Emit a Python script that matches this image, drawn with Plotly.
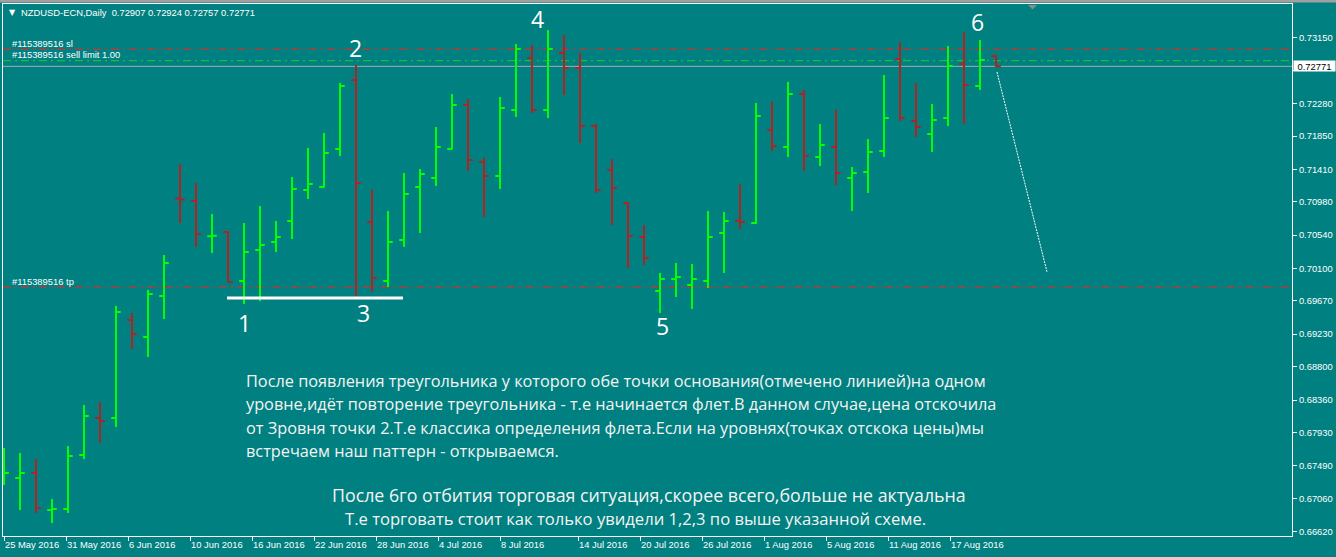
import plotly.graph_objects as go

# ---------------- data ----------------
dates = [
    "2016-05-25", "2016-05-26", "2016-05-27", "2016-05-30", "2016-05-31",
    "2016-06-01", "2016-06-02", "2016-06-03", "2016-06-06", "2016-06-07",
    "2016-06-08", "2016-06-09", "2016-06-10", "2016-06-13", "2016-06-14",
    "2016-06-15", "2016-06-16", "2016-06-17", "2016-06-20", "2016-06-21",
    "2016-06-22", "2016-06-23", "2016-06-24", "2016-06-27", "2016-06-28",
    "2016-06-29", "2016-06-30", "2016-07-01", "2016-07-04", "2016-07-05",
    "2016-07-06", "2016-07-07", "2016-07-08", "2016-07-11", "2016-07-12",
    "2016-07-13", "2016-07-14", "2016-07-15", "2016-07-18", "2016-07-19",
    "2016-07-20", "2016-07-21", "2016-07-22", "2016-07-25", "2016-07-26",
    "2016-07-27", "2016-07-28", "2016-07-29", "2016-08-01", "2016-08-02",
    "2016-08-03", "2016-08-04", "2016-08-05", "2016-08-08", "2016-08-09",
    "2016-08-10", "2016-08-11", "2016-08-12", "2016-08-15", "2016-08-16",
    "2016-08-17", "2016-08-18", "2016-08-19",
]

opens = [0.67329, 0.67329, 0.67395, 0.66906, 0.66919, 0.67633, 0.68122, 0.68122, 0.69418, 0.69193,
         0.69735, 0.71025, 0.70991, 0.70525, 0.70581, 0.69933, 0.70343, 0.70449, 0.70727, 0.71136,
         0.71176, 0.71679, 0.72591, 0.70713, 0.69933, 0.70475, 0.71176, 0.71295, 0.71679, 0.72260,
         0.71507, 0.71322, 0.72194, 0.72882, 0.72194, 0.72948, 0.72749, 0.71983, 0.71401, 0.70965,
         0.70515, 0.69801, 0.69960, 0.69880, 0.69933, 0.70568, 0.70730, 0.70700, 0.71930, 0.71705,
         0.72406, 0.71573, 0.71705, 0.71295, 0.71374, 0.71652, 0.72868, 0.72049, 0.71877, 0.72088,
         0.72802, 0.72511, 0.72907]

highs = [0.67725, 0.67659, 0.67580, 0.67051, 0.67752, 0.68294, 0.68334, 0.69603, 0.69510, 0.69814,
         0.70277, 0.71480, 0.71229, 0.70819, 0.70590, 0.70700, 0.70925, 0.70727, 0.71308, 0.71692,
         0.71890, 0.72551, 0.72789, 0.71136, 0.70859, 0.71361, 0.71414, 0.71969, 0.72406, 0.72340,
         0.71560, 0.72366, 0.73067, 0.73054, 0.73252, 0.73186, 0.72948, 0.72009, 0.71546, 0.70978,
         0.70674, 0.70039, 0.70171, 0.70158, 0.70859, 0.70846, 0.71216, 0.72287, 0.72300, 0.72564,
         0.72459, 0.72009, 0.72194, 0.71441, 0.71811, 0.72657, 0.73093, 0.72551, 0.72273, 0.73040,
         0.73225, 0.73120, 0.72924]

lows = [0.67236, 0.66906, 0.66866, 0.66734, 0.66866, 0.67580, 0.67791, 0.68003, 0.69034, 0.68929,
        0.69431, 0.70700, 0.70383, 0.70304, 0.69920, 0.69629, 0.69669, 0.70317, 0.70489, 0.71017,
        0.71170, 0.71586, 0.69722, 0.69788, 0.69854, 0.70383, 0.70568, 0.71189, 0.71675, 0.71388,
        0.70779, 0.71150, 0.72102, 0.72154, 0.72088, 0.72392, 0.71758, 0.71097, 0.70674, 0.70105,
        0.70145, 0.69510, 0.69722, 0.69563, 0.69841, 0.70039, 0.70621, 0.70687, 0.71652, 0.71573,
        0.71388, 0.71454, 0.71203, 0.70859, 0.71097, 0.71573, 0.72049, 0.71837, 0.71639, 0.71983,
        0.72009, 0.72459, 0.72757]

closes = [0.67395, 0.67395, 0.66932, 0.66919, 0.67620, 0.68148, 0.68082, 0.69524, 0.69233, 0.69762,
          0.70171, 0.71012, 0.70555, 0.70530, 0.69920, 0.70317, 0.70409, 0.70515, 0.71150, 0.71216,
          0.71626, 0.72511, 0.71229, 0.69973, 0.70449, 0.71084, 0.71348, 0.71705, 0.72260, 0.71533,
          0.71322, 0.72221, 0.73001, 0.72194, 0.73001, 0.72749, 0.71983, 0.71136, 0.71163, 0.70528,
          0.70237, 0.69960, 0.69986, 0.69960, 0.70515, 0.70727, 0.70713, 0.72115, 0.71718, 0.72406,
          0.71586, 0.71731, 0.71361, 0.71361, 0.71639, 0.72088, 0.72088, 0.71969, 0.72062, 0.72776,
          0.72525, 0.72855, 0.72771]

x_tick_labels = ["25 May 2016", "31 May 2016", "6 Jun 2016", "10 Jun 2016", "16 Jun 2016",
                 "22 Jun 2016", "28 Jun 2016", "4 Jul 2016", "8 Jul 2016", "14 Jul 2016",
                 "20 Jul 2016", "26 Jul 2016", "1 Aug 2016", "5 Aug 2016", "11 Aug 2016",
                 "17 Aug 2016"]
x_tick_pos = [0, 3.875, 7.75, 11.625, 15.5, 19.375, 23.25, 27.125, 31, 35.875,
              39.75, 43.625, 47.5, 51.375, 55.25, 59.125]

y_tick_vals = [0.73150, 0.72720, 0.72280, 0.71850, 0.71410, 0.70980, 0.70540, 0.70100,
               0.69670, 0.69230, 0.68800, 0.68360, 0.67930, 0.67490, 0.67060, 0.66620]
# the 0.72720 label sits under the current-price box, so it is not shown
y_tick_text = ["" if abs(v - 0.72720) < 1e-9 else f"{v:.5f}" for v in y_tick_vals]

sl_level = 0.72997
sell_limit_level = 0.72846
tp_level = 0.69854
last_price = 0.72771
header_text = "NZDUSD-ECN,Daily  0.72907 0.72924 0.72757 0.72771"

# base line of the pattern (points 1 and 3) and the projected move
base_line_x = [13.94, 24.94]
base_line_y = [0.69709, 0.69709]
proj_line_x = [62.06, 65.19]
proj_line_y = [0.72697, 0.70052]

point_labels = ["1", "2", "3", "4", "5", "6"]
point_px = [(244, 323), (356, 48), (363, 313), (537, 19), (662, 326), (978, 22)]

text_block_1 = [
    "После появления треугольника у которого обе точки основания(отмечено линией)на одном",
    "уровне,идёт повторение треугольника - т.е начинается флет.В данном случае,цена отскочила",
    "от Зровня точки 2.Т.е классика определения флета.Если на уровнях(точках отскока цены)мы",
    "встречаем наш паттерн - открываемся.",
]
text_block_2 = [
    "После 6го отбития торговая ситуация,скорее всего,больше не актуальна",
    "Т.е торговать стоит как только увидели 1,2,3 по выше указанной схеме.",
]

# ---------------- layout helpers ----------------
W, H = 1336, 557
ML, MR, MT, MB = 3, 44, 4, 21
PW = W - ML - MR
PH = H - MT - MB


def pxx(x):
    return (x - ML) / PW


def pxy(y):
    return (H - MB - y) / PH


TEAL = "#008080"
SMALL = dict(family="Liberation Sans, Arial, sans-serif", size=9.4, color="white")
BIG = "Open Sans, Noto Sans, sans-serif"

idx = list(range(len(opens)))

fig = go.Figure()
fig.add_trace(go.Ohlc(
    x=idx, open=opens, high=highs, low=lows, close=closes,
    text=dates,
    increasing=dict(line=dict(color="#00ff00", width=2)),
    decreasing=dict(line=dict(color="#b22222", width=2)),
    tickwidth=0.3,
))

fig.add_trace(go.Scatter(x=base_line_x, y=base_line_y, mode="lines",
                         line=dict(color="white", width=3), hoverinfo="skip"))
fig.add_trace(go.Scatter(x=proj_line_x, y=proj_line_y, mode="lines",
                         line=dict(color="white", width=1, dash="2px,1px"), hoverinfo="skip"))

shapes = []
for lvl, col in [(sl_level, "#ff1e1e"), (sell_limit_level, "#22cc22"), (tp_level, "#ff1e1e")]:
    shapes.append(dict(type="line", xref="paper", yref="y", x0=0, x1=1, y0=lvl, y1=lvl,
                       line=dict(color=col, width=1, dash="8px,4px,2px,4px"), layer="below"))
shapes.append(dict(type="line", xref="paper", yref="y", x0=0, x1=1, y0=last_price, y1=last_price,
                   line=dict(color="#a8a8a8", width=1), layer="below"))
shapes.append(dict(type="rect", xref="paper", yref="paper", x0=pxx(0), x1=pxx(W),
                   y0=pxy(2.5), y1=pxy(0), fillcolor="#a0a0a0", line=dict(width=0)))
shapes.append(dict(type="path", xref="paper", yref="paper",
                   path=f"M {pxx(1028)},{pxy(5)} L {pxx(1037)},{pxy(5)} L {pxx(1032.5)},{pxy(9.5)} Z",
                   fillcolor="#8c8c8c", line=dict(width=0)))

annotations = []
annotations.append(dict(xref="paper", yref="paper", x=pxx(7), y=pxy(13), text="▼",
                        showarrow=False, xanchor="left", yanchor="middle",
                        font=dict(family="DejaVu Sans", size=8, color="white")))
annotations.append(dict(xref="paper", yref="paper", x=pxx(19), y=pxy(13), text=header_text,
                        showarrow=False, xanchor="left", yanchor="middle", font=SMALL))
for txt, yy in [("#115389516 sl", 43), ("#115389516 sell limit 1.00", 54), ("#115389516 tp", 282)]:
    annotations.append(dict(xref="paper", yref="paper", x=pxx(10), y=pxy(yy), text=txt,
                            showarrow=False, xanchor="left", yanchor="middle", font=SMALL))
annotations.append(dict(xref="paper", yref="y", x=pxx(1293), y=last_price, text="0.72771",
                        showarrow=False, xanchor="left", yanchor="middle", bgcolor="white",
                        width=41, height=10, borderpad=0, align="center",
                        font=dict(family="Liberation Sans, Arial, sans-serif", size=9.4, color="black")))
for lab, (xx, yy) in zip(point_labels, point_px):
    annotations.append(dict(xref="paper", yref="paper", x=pxx(xx), y=pxy(yy), text=lab,
                            showarrow=False, xanchor="center", yanchor="middle",
                            font=dict(family=BIG, size=23, color="white")))
for i, line in enumerate(text_block_1):
    annotations.append(dict(xref="paper", yref="paper", x=pxx(244), y=pxy(381 + 23.3 * i), text=line,
                            showarrow=False, xanchor="left", yanchor="middle",
                            font=dict(family=BIG, size=16.3, color="#f4f4f4")))
for line, (xx, yy, fs) in zip(text_block_2, [(330, 495, 17.8), (343, 518, 16.6)]):
    annotations.append(dict(xref="paper", yref="paper", x=pxx(xx), y=pxy(yy), text=line,
                            showarrow=False, xanchor="left", yanchor="middle",
                            font=dict(family=BIG, size=fs, color="#f4f4f4")))

fig.update_layout(
    width=W, height=H,
    margin=dict(l=ML, r=MR, t=MT, b=MB, pad=0, autoexpand=False),
    paper_bgcolor=TEAL, plot_bgcolor=TEAL,
    showlegend=False,
    shapes=shapes,
    annotations=annotations,
    xaxis=dict(range=[-0.0625, 80.5], tickmode="array", tickvals=x_tick_pos, ticktext=x_tick_labels,
               ticks="outside", ticklen=4, tickcolor="white", tickwidth=1, tickangle=0,
               ticklabelposition="outside right", automargin=False,
               showgrid=False, zeroline=False, showline=True, linecolor="white", linewidth=1,
               mirror=True, rangeslider=dict(visible=False), tickfont=SMALL, fixedrange=True),
    yaxis=dict(side="right", range=[0.665619, 0.735955], tickmode="array", tickvals=y_tick_vals,
               ticktext=y_tick_text, automargin=False,
               ticks="outside", ticklen=4, tickcolor="white", tickwidth=1,
               showgrid=False, zeroline=False, showline=True, linecolor="white", linewidth=1,
               mirror=True, tickfont=SMALL, fixedrange=True),
)

fig.write_html("out.html")
